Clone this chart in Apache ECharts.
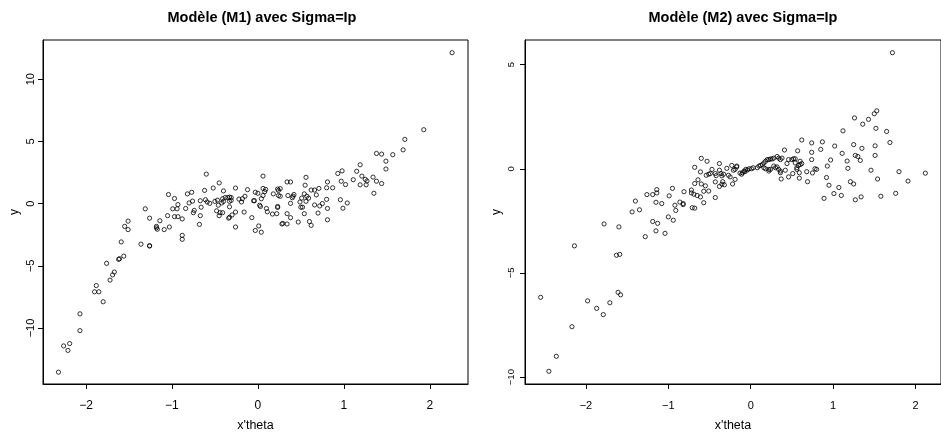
<!DOCTYPE html>
<html>
<head>
<meta charset="utf-8">
<script src="https://cdn.jsdelivr.net/npm/echarts@6/dist/echarts.min.js"></script>
<style>
html,body{margin:0;padding:0;background:#fff;}
#chart{width:941px;height:437px;}
</style>
</head>
<body>
<div id="chart"></div>
<script>
// ---- Panel titles / labels ----
const titles = ["Modèle (M1) avec Sigma=Ip", "Modèle (M2) avec Sigma=Ip"];
const xName = "x'theta";
const yName = "y";

// ---- Tick labels ----
const xTicks = [-2, -1, 0, 1, 2];
const yTicksM1 = [-10, -5, 0, 5, 10];
const yTicksM2 = [-10, -5, 0, 5];

// ---- Model M1 data ----
const m1X = [-2.32,-2.26,-2.21,-2.19,-2.07,-2.07,-1.90,-1.85,-1.88,-1.80,-1.76,-1.72,-1.69,-1.67,-1.62,-1.61,-1.56,-1.59,-1.55,-1.51,-1.51,-1.36,-1.26,-1.26,-1.26,-1.18,-1.17,-1.18,-1.14,-1.09,-1.03,-1.05,-0.97,-0.93,-0.88,-0.88,-0.88,-0.68,-0.67,-0.45,-0.34,-0.33,-0.26,
-0.60,-0.45,-0.26,-0.12,-0.52,-0.62,-0.40,-0.82,-0.77,-1.04,-0.97,-1.31,-0.99,-0.94,-0.93,-0.84,-0.80,-0.76,-0.75,-0.74,-0.67,-0.66,-0.61,-0.59,-0.56,-0.50,-0.47,-0.46,-0.42,-0.41,-0.40,-0.38,-0.35,-0.48,-0.44,-0.41,-0.33,-0.31,-0.33,-0.30,-0.26,-0.22,-0.18,-0.15,-0.19,-0.16,-0.31,-0.33,
1.69,1.38,1.44,1.57,1.49,1.49,1.19,1.15,0.93,0.98,1.21,1.25,1.27,1.26,1.19,1.11,1.34,1.38,1.44,1.35,0.97,1.02,0.81,0.80,0.87,0.80,0.81,0.81,0.96,0.99,1.04,0.75,0.72,0.70,0.66,0.62,0.66,0.71,0.68,0.56,0.55,0.54,0.57,0.59,0.56,0.51,0.49,0.50,0.52,0.54,0.60,0.62,0.47,0.34,0.38,0.35,0.40,0.41,0.42,0.38,0.34,0.38,0.34,0.28,0.29,0.23,0.26,0.24,0.24,0.26,0.18,0.23,0.23,0.22,0.17,0.10,0.11,0.06,0.06,0.09,0.08,0.04,0.06,0.02,0.03,-0.03,0.00,-0.05,-0.04,-0.07,0.01,-0.03,0.04,1.93,1.71,2.26];
const m1Y = [-13.55,-11.44,-11.80,-11.25,-10.21,-8.86,-7.09,-7.09,-6.59,-7.89,-4.80,-6.15,-5.73,-5.50,-4.48,-4.43,-4.22,-3.08,-1.83,-1.41,-2.09,-3.26,-3.41,-3.38,-1.17,-1.83,-2.06,-1.95,-1.38,-2.09,-1.88,-0.97,-1.05,-1.05,-1.23,-2.55,-2.87,-1.67,-0.97,-0.97,-1.17,-1.10,-1.88,
2.37,1.66,1.25,1.12,1.25,1.06,1.02,0.78,0.91,0.73,0.41,-0.42,-0.42,-0.42,-0.08,-0.39,0.05,0.20,-0.73,-0.55,0.23,-0.29,0.31,0.13,0.02,0.18,0.28,-0.13,0.05,0.39,0.18,0.49,0.49,-0.58,-0.73,-0.73,0.18,0.49,-0.26,-0.91,-0.68,0.36,0.39,0.59,0.13,-0.68,0.26,0.52,
4.32,4.03,3.98,3.93,3.41,2.78,3.12,2.60,2.42,2.63,2.21,1.95,1.82,1.51,1.51,1.92,2.13,1.80,1.61,0.83,1.80,1.53,1.74,1.27,1.27,0.34,-0.39,-1.30,0.31,-0.37,0.05,0.00,-0.19,-0.76,-0.11,1.09,1.09,1.22,0.70,2.11,1.48,0.78,0.59,0.44,0.18,0.44,0.13,-0.29,-0.29,-0.81,-1.44,-1.75,-1.48,1.74,1.74,0.65,0.47,0.59,0.73,0.02,-0.81,-1.13,-1.64,-1.64,-1.59,1.17,1.20,1.06,0.65,0.59,0.78,-0.23,-0.31,-0.81,-0.84,-0.39,-0.66,2.21,1.22,1.14,0.96,0.39,0.65,-0.13,-0.23,0.91,0.83,0.23,0.23,-1.13,-1.80,-2.16,-2.30,5.94,5.16,12.13];

// ---- Model M2 data ----
const m2X = [-2.55,-2.45,-2.36,-2.17,-2.14,-1.98,-1.87,-1.79,-1.71,-1.78,
-1.61,-1.58,-1.63,-1.59,-1.60,-1.28,-1.19,-1.13,-1.15,-1.04,
-1.00,-0.94,-1.44,-1.35,-1.40,-1.26,-1.19,-1.14,-1.14,-1.15,
-1.08,-0.99,-0.95,-0.92,-0.91,-0.86,-0.82,-0.82,-0.81,-0.72,
-0.72,-0.69,-0.71,-0.68,-0.65,-0.61,-0.57,-0.57,-0.51,-0.43,
-0.68,-0.64,-0.60,-0.55,-0.68,-0.60,-0.53,-0.61,-0.54,-0.51,
-0.49,-0.47,-0.43,-0.42,-0.38,-0.43,-0.38,-0.36,-0.35,-0.33,
-0.38,-0.35,-0.32,-0.34,-0.29,-0.27,-0.25,-0.23,-0.17,-0.21,
-0.19,-0.22,-0.13,-0.10,-0.07,-0.04,-0.02,0.01,-0.17,-0.19,
-0.11,-0.08,-0.06,0.03,0.08,0.10,0.12,0.14,0.16,0.18,
0.20,0.22,0.24,0.26,0.28,0.32,0.34,0.36,0.38,0.16,
0.18,0.22,0.22,0.24,0.28,0.30,0.32,0.34,0.36,0.36,
0.42,0.44,0.46,0.50,0.52,0.54,0.54,0.56,0.58,0.60,
0.62,0.60,0.37,0.46,0.51,0.56,0.59,0.41,0.62,0.57,
0.78,0.80,0.75,0.68,0.69,0.59,0.74,0.74,0.74,0.87,
0.85,0.97,0.93,1.02,1.11,1.12,1.17,1.18,1.25,1.35,
1.51,1.51,1.27,1.30,1.33,0.92,0.95,1.01,1.07,1.10,
0.89,1.21,1.25,1.27,1.34,1.46,1.54,1.58,1.76,1.80,
1.91,2.12,1.72,1.53,1.50,1.43,1.36,1.26,1.52,1.65,1.69];
const m2Y = [-6.17,-9.72,-9.00,-7.58,-3.70,-6.34,-6.70,-7.00,-6.43,-2.65,
-5.93,-6.05,-4.15,-4.11,-2.79,-3.26,-2.53,-2.62,-2.98,-3.10,
-2.31,-2.47,-2.07,-1.97,-1.55,-1.24,-1.24,-1.16,-1.00,-1.61,
-1.67,-1.30,-0.94,-1.75,-2.00,-1.60,-1.67,-1.72,-1.10,-1.02,
-1.16,-1.22,-1.87,-1.89,-1.28,-1.35,-1.63,-1.08,-1.07,-1.38,
-0.71,-0.53,-0.73,-0.82,0.07,0.50,0.36,-0.15,-0.31,-0.26,
-0.23,-0.03,-0.23,-0.33,0.25,-0.63,-0.07,-0.23,-0.34,-0.26,
-0.85,-0.74,-0.77,-0.62,0.02,-0.31,-0.39,0.16,0.09,-0.07,
-0.51,-0.73,-0.21,-0.19,-0.14,-0.06,0.00,0.00,0.13,-0.03,
-0.26,-0.11,-0.03,0.05,0.05,0.13,0.16,0.20,0.28,0.36,
0.44,0.44,0.47,0.47,0.51,0.59,0.51,0.44,0.51,0.05,
0.00,-0.03,-0.11,-0.03,0.13,0.05,0.09,-0.03,-0.11,-0.19,
-0.07,0.25,0.44,0.44,0.48,0.48,0.28,0.05,0.16,0.20,
0.25,0.36,-0.49,-0.39,-0.23,-0.03,-0.19,0.90,1.38,0.86,
0.00,-0.03,-0.20,-0.14,-0.62,-0.45,1.24,0.79,0.44,1.29,
0.93,0.42,0.13,1.09,0.74,1.82,0.37,0.02,1.16,0.98,
1.10,0.64,0.64,0.59,0.40,-0.42,-0.79,-1.19,-0.90,-1.28,
-1.42,-0.62,-0.73,-1.49,-1.35,-0.07,-0.49,-1.32,-1.18,-0.14,
-0.59,-0.21,5.57,2.78,2.64,2.37,2.14,2.44,1.94,1.79,1.26];

// ---- build ----
const FONT = "'Liberation Sans', Arial, Helvetica, sans-serif";
const pairs = (xs, ys) => xs.map((x, i) => [x, ys[i]]);
const fmt = v => String(v).replace('-', '\u2212');

function xAxis(gi, min, max, fs) {
  return {
    gridIndex: gi, type: 'value', min: min, max: max,
    axisLine: {show: true, onZero: false, lineStyle: {color: '#000', width: 1}},
    axisTick: {show: true, length: 5, customValues: xTicks, lineStyle: {color: '#000'}},
    axisLabel: {customValues: xTicks, formatter: fmt, fontSize: fs, color: '#000', margin: 16, fontFamily: FONT},
    splitLine: {show: false},
    name: xName, nameLocation: 'middle', nameGap: 35,
    nameTextStyle: {fontSize: 12.5, color: '#000', fontFamily: FONT}
  };
}
function yAxis(gi, min, max, ticks, fs, margin) {
  return {
    gridIndex: gi, type: 'value', min: min, max: max,
    axisLine: {show: true, onZero: false, lineStyle: {color: '#000', width: 1}},
    axisTick: {show: true, length: 5, customValues: ticks, lineStyle: {color: '#000'}},
    axisLabel: {customValues: ticks, formatter: fmt, fontSize: fs, color: '#000', margin: margin, rotate: 90, fontFamily: FONT},
    splitLine: {show: false},
    name: yName, nameLocation: 'middle', nameGap: 22, nameRotate: 90,
    nameTextStyle: {fontSize: 12, color: '#000', fontFamily: FONT}
  };
}
function scatter(gi, data) {
  return {
    type: 'scatter', xAxisIndex: gi, yAxisIndex: gi, data: data,
    symbol: 'circle', symbolSize: 4.2,
    itemStyle: {color: 'rgba(255,255,255,0)', borderColor: '#000', borderWidth: 1},
    emphasis: {disabled: true}, silent: true
  };
}

const chart = echarts.init(document.getElementById('chart'), null, {renderer: 'canvas'});
chart.setOption({
  animation: false,
  backgroundColor: '#fff',
  textStyle: {fontFamily: FONT},
  title: [
    {text: titles[0], left: 257, top: 5, textAlign: 'center',
     textStyle: {fontSize: 14.5, fontWeight: 'bold', color: '#000', fontFamily: FONT}},
    {text: titles[1], left: 738, top: 5, textAlign: 'center',
     textStyle: {fontSize: 14.5, fontWeight: 'bold', color: '#000', fontFamily: FONT}}
  ],
  grid: [
    {left: 43, top: 40, width: 425, height: 354, show: true, borderColor: '#000', borderWidth: 1, containLabel: false},
    {left: 525, top: 40, width: 426, height: 354, show: true, borderColor: '#000', borderWidth: 1, containLabel: false}
  ],
  xAxis: [xAxis(0, -2.5, 2.445, 12), xAxis(1, -2.74, 2.31, 11)],
  yAxis: [yAxis(0, -14.5, 13.15, yTicksM1, 11, 7), yAxis(1, -10.33, 6.18, yTicksM2, 9.5, 9)],
  series: [scatter(0, pairs(m1X, m1Y)), scatter(1, pairs(m2X, m2Y))]
});
</script>
</body>
</html>
